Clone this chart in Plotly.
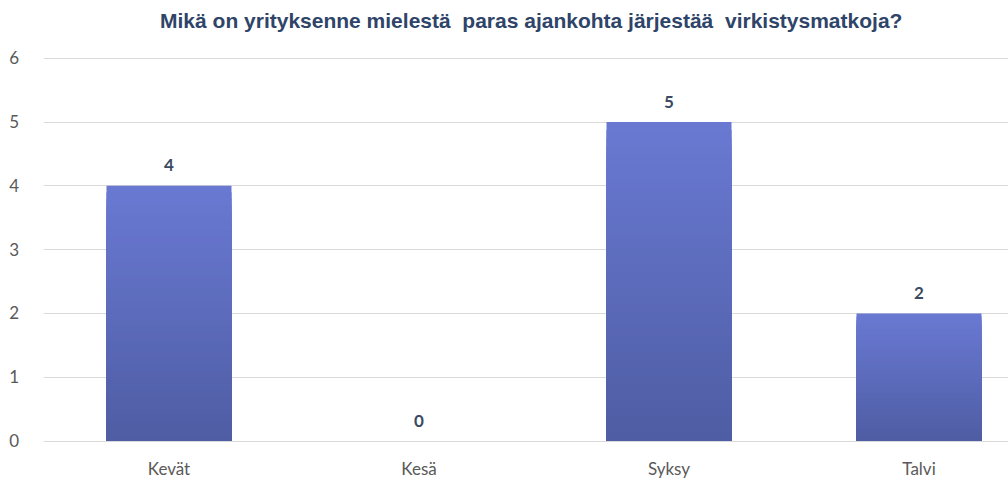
import plotly.graph_objects as go

categories = ["Kevät", "Kesä", "Syksy", "Talvi"]
values = [4, 0, 5, 2]
title_text = "Mikä on yrityksenne mielestä  paras ajankohta järjestää  virkistysmatkoja?"
y_ticks = [0, 1, 2, 3, 4, 5, 6]

top_rgb = (105, 121, 210)
bottom_rgb = (79, 93, 164)
n_layers = 40

fig = go.Figure()
# vertical gradient: stacked-over bars of decreasing height, progressively darker
for k in range(n_layers):
    frac = 1 - k / n_layers
    t = k / (n_layers - 1)
    c = tuple(round(a + (b - a) * t) for a, b in zip(top_rgb, bottom_rgb))
    fig.add_trace(go.Bar(
        x=categories, y=[v * frac for v in values], width=0.5,
        marker=dict(color="rgb(%d,%d,%d)" % c, line=dict(width=0)),
        hoverinfo="skip", showlegend=False,
    ))

annotations = [
    dict(x=cat, y=v, xref="x", yref="y", text="<b>%d</b>" % v, showarrow=False,
         yshift=21, font=dict(family="Lato", size=17, color="#3b4a63"))
    for cat, v in zip(categories, values)
]

fig.update_layout(
    width=1008, height=482,
    barmode="overlay",
    paper_bgcolor="white", plot_bgcolor="white",
    margin=dict(l=44, r=0, t=57, b=41),
    annotations=annotations,
    title=dict(text="<b>" + title_text.replace("  ", "&nbsp; ") + "</b>", x=0.527, xanchor="center",
               y=0.958, yanchor="middle",
               font=dict(family="Liberation Sans", size=21, color="#2e4468")),
    xaxis=dict(range=[-0.5, 3.356], showgrid=False, showline=False, ticks="",
               tickfont=dict(family="Lato", size=17, color="#595959"), ticklabelstandoff=16),
    yaxis=dict(range=[0, 6.02], tickvals=y_ticks, showgrid=True, gridcolor="#d9d9d9", gridwidth=1,
               zeroline=True, zerolinecolor="#d9d9d9", zerolinewidth=1, showline=False,
               tickfont=dict(family="Lato", size=17, color="#595959"), ticklabelstandoff=24),
)

fig.write_html("out.html")
